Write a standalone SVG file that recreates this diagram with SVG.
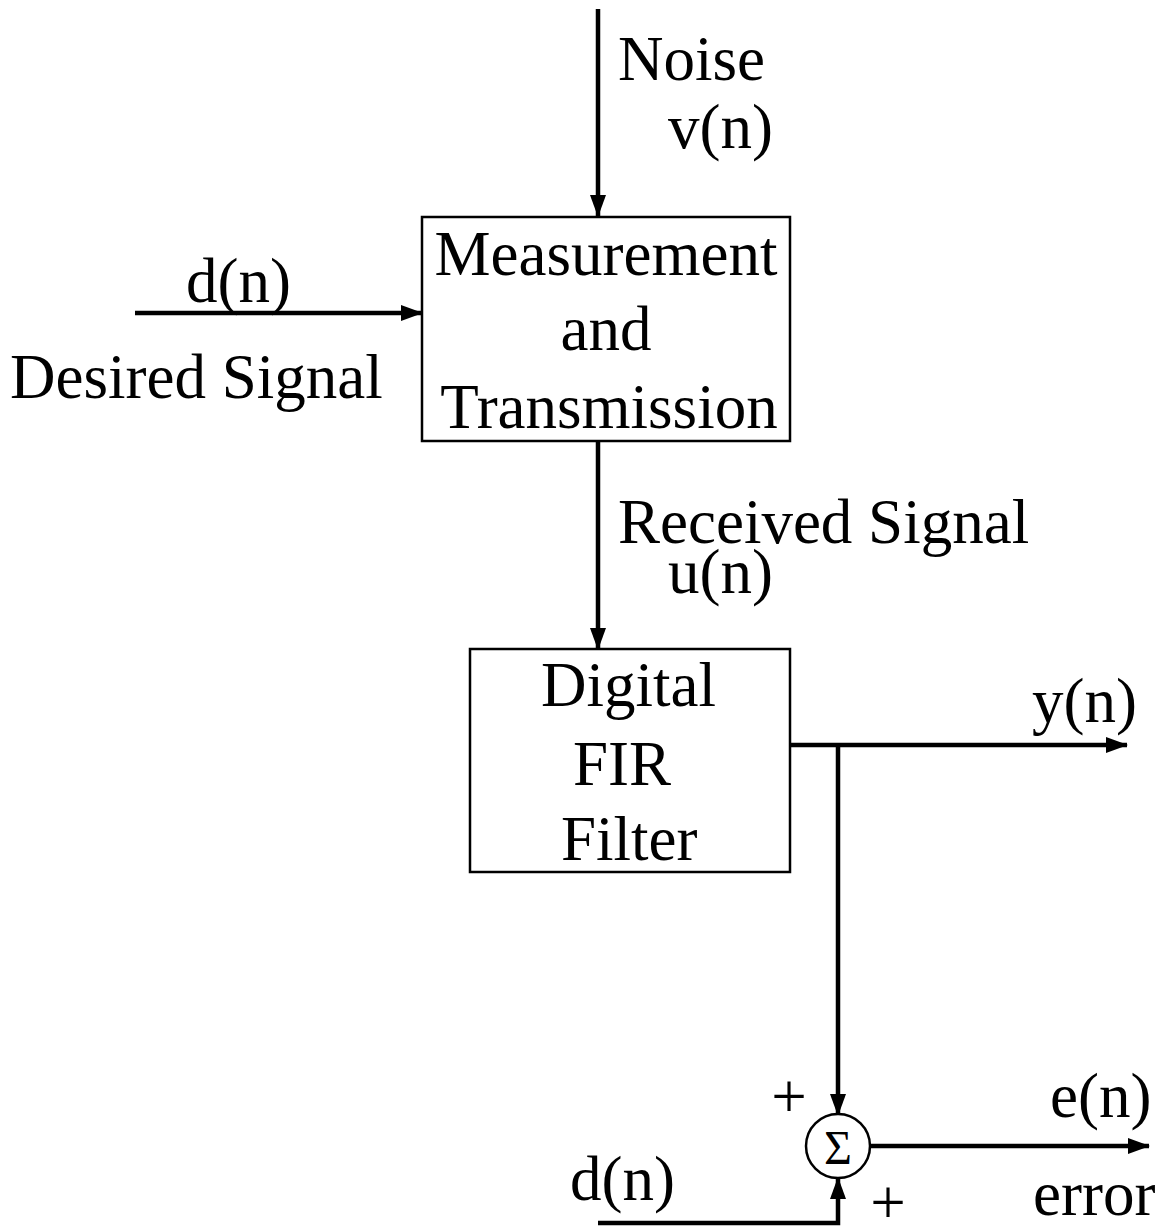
<svg xmlns="http://www.w3.org/2000/svg" width="1165" height="1227" viewBox="0 0 1165 1227">
<style>
text{font-family:"Liberation Serif","Times New Roman",serif;font-size:63px;fill:#000}
.c{text-anchor:middle}
.box{fill:#fff;stroke:#000;stroke-width:2.5}
.ln{fill:none;stroke:#000;stroke-width:4.5}
</style>
<defs>
<marker id="ah" markerUnits="userSpaceOnUse" markerWidth="22" markerHeight="22" viewBox="0 0 22 22" refX="21" refY="11" orient="auto">
<path d="M0,3 L22,11 L0,19 Z" fill="#000"/>
</marker>
</defs>
<rect width="1165" height="1227" fill="#fff"/>
<g id="connectors">
<line class="ln" x1="598" y1="9" x2="598" y2="216" marker-end="url(#ah)"/>
<line class="ln" x1="135" y1="313" x2="422" y2="313" marker-end="url(#ah)"/>
<line class="ln" x1="598" y1="441" x2="598" y2="649" marker-end="url(#ah)"/>
<line class="ln" x1="790" y1="745" x2="1127" y2="745" marker-end="url(#ah)"/>
<line class="ln" x1="838" y1="745" x2="838" y2="1115" marker-end="url(#ah)"/>
<line class="ln" x1="870" y1="1146" x2="1149" y2="1146" marker-end="url(#ah)"/>
<polyline class="ln" points="598,1223 838,1223 838,1178" marker-end="url(#ah)"/>
</g>
<g id="labels">
<text x="618" y="80">Noise</text>
<text x="668" y="148">v(n)</text>
<text x="186" y="302">d(n)</text>
<text x="10" y="398">Desired Signal</text>
<text x="618" y="543">Received Signal</text>
<text x="668" y="593">u(n)</text>
<text x="1032" y="722">y(n)</text>
<text x="1050" y="1117">e(n)</text>
<text x="1033" y="1215">error</text>
<text x="570" y="1200">d(n)</text>
<text class="c" x="789" y="1118">+</text>
<text class="c" x="888" y="1224">+</text>
</g>
<g id="measurement">
<rect class="box" x="422" y="217" width="368" height="224"/>
<text class="c" x="606" y="275">Measurement</text>
<text class="c" x="606" y="350">and</text>
<text class="c" x="609" y="428">Transmission</text>
</g>
<g id="fir">
<rect class="box" x="470" y="649" width="320" height="223"/>
<text x="541" y="706">Digital</text>
<text x="573" y="785">FIR</text>
<text x="561" y="860">Filter</text>
</g>
<g id="sum">
<circle cx="838" cy="1146" r="32" fill="#fff" stroke="#000" stroke-width="2.5"/>
<text class="c" x="838" y="1164" style="font-size:48px">Σ</text>
</g>
</svg>
